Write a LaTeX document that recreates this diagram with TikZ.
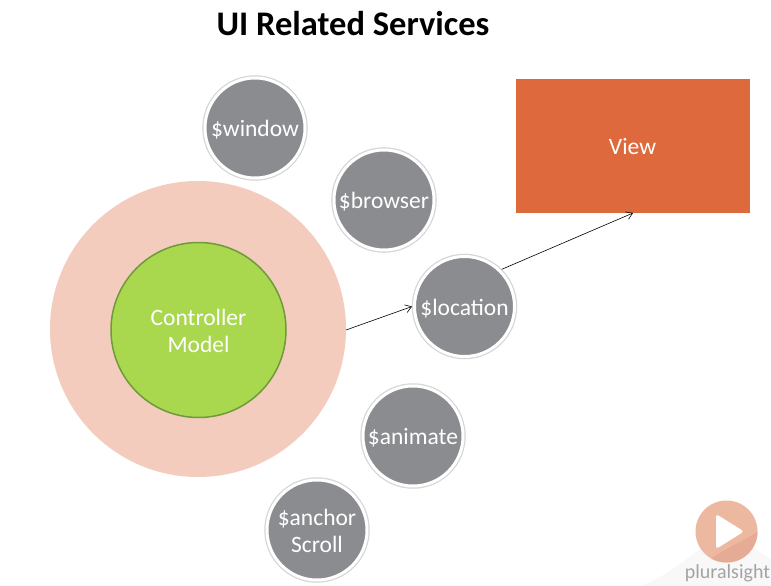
\documentclass[tikz,border=0pt]{standalone}
\usepackage{fontspec}
\setmainfont{Carlito}
\usetikzlibrary{arrows.meta}
\definecolor{svc}{HTML}{8B8C90}
\definecolor{ring}{HTML}{D6D6D6}
\definecolor{halo}{HTML}{F3CCBE}
\definecolor{ctrl}{HTML}{A9D84F}
\definecolor{ctrlb}{HTML}{6E9A3A}
\definecolor{viewc}{HTML}{DD693C}
\definecolor{swoosh}{HTML}{F8F8F8}
\definecolor{play}{HTML}{EDB8A0}
\definecolor{playd}{HTML}{E6AB94}
\definecolor{brandc}{HTML}{A3A3A3}
\newcommand{\lowertext}[2][2pt]{\raisebox{-#1}[\height][\depth]{#2}}
\tikzset{x=1pt,y=-1pt,
  svcnode/.style={circle,fill=svc,draw=white,line width=3pt,preaction={draw=ring,line width=5.5pt},text=white,align=center,font=\fontsize{23.5}{27}\selectfont,inner sep=0pt,minimum size=100pt,outer sep=2.5pt},
  conn/.style={draw=black,line width=.6pt,-{Straight Barb[length=6pt,width=8pt]}}}
\begin{document}
\begin{tikzpicture}
\useasboundingbox (0,0) rectangle (771,586);
\fill[white] (0,0) rectangle (771,586);
\fill[swoosh] (640,586) .. controls (680,572) and (700,540) .. (728,540) .. controls (745,540) and (760,552) .. (771,560) -- (771,586) -- cycle;
\node (title) at (353,24) {\fontsize{34.5}{40}\selectfont\bfseries UI Related Services};
\node[circle,fill=halo,minimum size=296pt,inner sep=0pt] (halo) at (198,329) {};
\node[circle,fill=ctrl,draw=ctrlb,line width=1.5pt,minimum size=175pt,inner sep=0pt,align=center,text=white,font=\fontsize{23.5}{27}\selectfont] (ctrl) at (198.500,330) {\lowertext[1pt]{Controller}\\\lowertext[1pt]{Model}};
\node[fill=viewc,minimum width=234pt,minimum height=134pt,inner sep=0pt,text=white,font=\fontsize{23.5}{27}\selectfont] (view) at (632.500,146) {View};
\node[svcnode] (window) at (255,128) {\lowertext{\$window}};
\node[svcnode] (browser) at (384,200) {\lowertext{\$browser}};
\node[svcnode] (location) at (464.500,306.500) {\lowertext{\$location}};
\node[svcnode] (animate) at (413,436) {\lowertext{\$animate}};
\node[svcnode] (anchor) at (317,530) {\lowertext[1pt]{\$anchor}\\\lowertext[1pt]{Scroll}};
\coordinate (viewin) at (633,213);
\coordinate (haloout) at (346,330);
\draw[conn] (haloout) -- (location.west);
\draw[conn] (location.45) -- (viewin);
\fill[play] (726.500,531.500) circle (31);
\begin{scope}
\clip (726.500,531.500) circle (31);
\fill[playd] (700,570) .. controls (715,550) and (740,545) .. (760,530) -- (760,570) -- cycle;
\end{scope}
\fill[white,rounded corners=3pt] (716,514) -- (744,531.500) -- (716,549) -- cycle;
\node[font=\fontsize{20}{24}\selectfont,text=brandc] (brand) at (727.500,573) {pluralsight};
\end{tikzpicture}
\end{document}
